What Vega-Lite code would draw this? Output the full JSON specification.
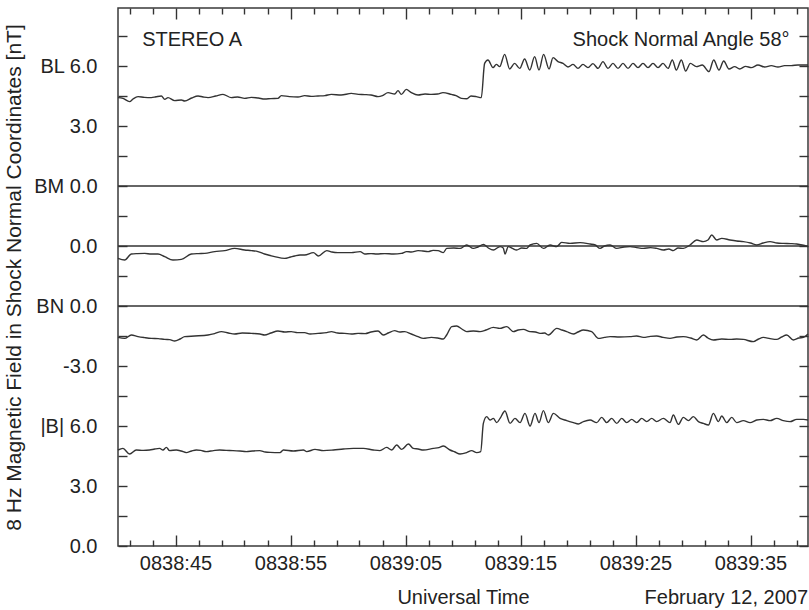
{
  "$schema": "https://vega.github.io/schema/vega-lite/v6.json",
  "width": 690,
  "height": 538,
  "autosize": {"type": "none"},
  "padding": {"left": 118, "top": 8, "right": 1, "bottom": 64},
  "title": {"text": "February 12, 2007", "orient": "bottom", "anchor": "end", "frame": "group", "offset": -19},
  "config": {
    "view": {"stroke": "#3a3a3a", "strokeWidth": 1.5},
    "font": "Liberation Sans",
    "axis": {"domain": false, "grid": false, "labelFont": "Liberation Sans", "titleFont": "Liberation Sans", "labelFontSize": 20, "titleFontSize": 20, "titleFontWeight": "normal", "labelColor": "#222", "titleColor": "#222", "tickColor": "#333", "tickWidth": 1.4, "labelOverlap": false, "labelFlush": false},
    "title": {"font": "Liberation Sans", "fontSize": 20, "fontWeight": "normal", "color": "#222"}
  },
  "datasets": {
    "BL": [{"t":0,"v":4.42},{"t":0.43,"v":4.38},{"t":1.01,"v":4.22},{"t":1.3,"v":4.35},{"t":1.74,"v":4.47},{"t":2.3,"v":4.43},{"t":2.9,"v":4.42},{"t":3.3,"v":4.46},{"t":3.77,"v":4.5},{"t":4.06,"v":4.33},{"t":4.35,"v":4.42},{"t":4.93,"v":4.27},{"t":5.51,"v":4.3},{"t":5.8,"v":4.25},{"t":6.4,"v":4.4},{"t":6.96,"v":4.5},{"t":7.4,"v":4.45},{"t":7.83,"v":4.42},{"t":8.5,"v":4.5},{"t":9.13,"v":4.58},{"t":9.86,"v":4.42},{"t":10.4,"v":4.45},{"t":11.01,"v":4.38},{"t":11.59,"v":4.43},{"t":12.2,"v":4.4},{"t":12.75,"v":4.35},{"t":13.3,"v":4.37},{"t":13.91,"v":4.38},{"t":14.2,"v":4.52},{"t":14.9,"v":4.47},{"t":15.65,"v":4.45},{"t":16.23,"v":4.52},{"t":16.8,"v":4.48},{"t":17.39,"v":4.5},{"t":18.0,"v":4.52},{"t":18.55,"v":4.58},{"t":19.4,"v":4.55},{"t":20.29,"v":4.63},{"t":20.9,"v":4.58},{"t":21.45,"v":4.57},{"t":22.0,"v":4.55},{"t":22.61,"v":4.47},{"t":23.0,"v":4.52},{"t":23.48,"v":4.67},{"t":24.06,"v":4.6},{"t":24.35,"v":4.77},{"t":24.64,"v":4.58},{"t":25.07,"v":4.83},{"t":25.51,"v":4.67},{"t":26.09,"v":4.55},{"t":26.7,"v":4.6},{"t":27.25,"v":4.58},{"t":27.8,"v":4.6},{"t":28.26,"v":4.67},{"t":28.99,"v":4.58},{"t":29.4,"v":4.52},{"t":29.86,"v":4.38},{"t":30.3,"v":4.36},{"t":30.7,"v":4.5},{"t":31.16,"v":4.47},{"t":31.59,"v":4.42},{"t":31.88,"v":6.13},{"t":32.17,"v":6.3},{"t":32.61,"v":5.92},{"t":32.9,"v":6.08},{"t":33.19,"v":5.97},{"t":33.62,"v":6.58},{"t":34.06,"v":5.85},{"t":34.49,"v":6.13},{"t":34.93,"v":5.88},{"t":35.36,"v":6.35},{"t":35.8,"v":5.8},{"t":36.23,"v":6.47},{"t":36.61,"v":5.8},{"t":37.01,"v":6.58},{"t":37.48,"v":5.85},{"t":37.83,"v":6.42},{"t":38.26,"v":6.22},{"t":38.7,"v":6.13},{"t":39.13,"v":5.95},{"t":39.57,"v":6.08},{"t":40.0,"v":5.88},{"t":40.43,"v":6.08},{"t":40.87,"v":5.92},{"t":41.3,"v":6.12},{"t":41.74,"v":5.88},{"t":42.17,"v":6.22},{"t":42.61,"v":5.88},{"t":43.04,"v":6.13},{"t":43.48,"v":5.88},{"t":43.91,"v":6.13},{"t":44.35,"v":5.88},{"t":44.78,"v":6.13},{"t":45.22,"v":5.92},{"t":45.65,"v":6.13},{"t":46.09,"v":5.92},{"t":46.52,"v":6.13},{"t":46.96,"v":5.92},{"t":47.39,"v":6.13},{"t":47.83,"v":5.88},{"t":48.2,"v":6.3},{"t":48.55,"v":5.8},{"t":48.99,"v":6.3},{"t":49.36,"v":5.75},{"t":49.77,"v":6.13},{"t":50.29,"v":5.97},{"t":50.81,"v":6.05},{"t":51.39,"v":5.72},{"t":51.8,"v":6.3},{"t":52.26,"v":5.8},{"t":52.67,"v":6.25},{"t":53.13,"v":5.85},{"t":53.62,"v":5.97},{"t":54.06,"v":5.85},{"t":54.58,"v":5.98},{"t":55.07,"v":5.92},{"t":55.65,"v":6.05},{"t":56.23,"v":5.95},{"t":56.81,"v":6.02},{"t":57.39,"v":5.95},{"t":57.97,"v":6.02},{"t":58.55,"v":6.02},{"t":59.13,"v":6.05},{"t":60,"v":6.05}],
    "BM": [{"t":0,"v":-0.62},{"t":0.58,"v":-0.7},{"t":1.16,"v":-0.4},{"t":1.7,"v":-0.38},{"t":2.32,"v":-0.37},{"t":2.9,"v":-0.4},{"t":3.48,"v":-0.4},{"t":4.06,"v":-0.53},{"t":4.78,"v":-0.7},{"t":5.51,"v":-0.67},{"t":6.38,"v":-0.4},{"t":7.0,"v":-0.38},{"t":7.54,"v":-0.37},{"t":8.41,"v":-0.28},{"t":9.28,"v":-0.23},{"t":10.14,"v":-0.12},{"t":11.01,"v":-0.2},{"t":11.6,"v":-0.23},{"t":12.17,"v":-0.28},{"t":12.75,"v":-0.4},{"t":13.62,"v":-0.53},{"t":14.49,"v":-0.62},{"t":15.0,"v":-0.55},{"t":15.36,"v":-0.5},{"t":15.83,"v":-0.45},{"t":16.23,"v":-0.45},{"t":16.99,"v":-0.33},{"t":17.42,"v":-0.5},{"t":18.15,"v":-0.23},{"t":18.6,"v":-0.3},{"t":19.13,"v":-0.33},{"t":19.6,"v":-0.33},{"t":20.29,"v":-0.33},{"t":21.05,"v":-0.28},{"t":21.45,"v":-0.4},{"t":22.0,"v":-0.38},{"t":22.49,"v":-0.4},{"t":23.2,"v":-0.38},{"t":23.94,"v":-0.4},{"t":24.64,"v":-0.37},{"t":25.1,"v":-0.28},{"t":25.5,"v":-0.3},{"t":26.09,"v":-0.23},{"t":26.5,"v":-0.25},{"t":26.96,"v":-0.28},{"t":27.4,"v":-0.22},{"t":27.83,"v":-0.23},{"t":28.29,"v":-0.33},{"t":28.58,"v":-0.12},{"t":29.2,"v":-0.1},{"t":29.74,"v":-0.12},{"t":30.32,"v":0.05},{"t":30.9,"v":-0.12},{"t":31.3,"v":-0.05},{"t":31.77,"v":0.08},{"t":32.2,"v":-0.1},{"t":32.64,"v":-0.2},{"t":33.22,"v":-0.03},{"t":33.5,"v":-0.1},{"t":33.65,"v":-0.4},{"t":33.94,"v":-0.03},{"t":34.3,"v":-0.12},{"t":34.67,"v":-0.2},{"t":35.1,"v":-0.1},{"t":35.54,"v":-0.12},{"t":35.83,"v":0.05},{"t":36.41,"v":0.13},{"t":36.99,"v":-0.12},{"t":37.57,"v":0.05},{"t":38.15,"v":-0.03},{"t":38.58,"v":0.18},{"t":39.31,"v":0.13},{"t":40.18,"v":0.17},{"t":41.05,"v":0.1},{"t":41.5,"v":0.05},{"t":41.92,"v":-0.12},{"t":42.3,"v":0.0},{"t":42.79,"v":0.05},{"t":43.37,"v":-0.12},{"t":44.0,"v":-0.05},{"t":44.53,"v":-0.03},{"t":45.1,"v":-0.08},{"t":45.68,"v":-0.12},{"t":46.3,"v":-0.08},{"t":46.84,"v":-0.12},{"t":47.42,"v":-0.2},{"t":47.9,"v":-0.15},{"t":48.29,"v":-0.23},{"t":48.7,"v":-0.1},{"t":49.16,"v":-0.12},{"t":49.74,"v":0.05},{"t":50.32,"v":0.3},{"t":50.9,"v":0.22},{"t":51.3,"v":0.3},{"t":51.63,"v":0.55},{"t":52.06,"v":0.3},{"t":52.5,"v":0.38},{"t":53.22,"v":0.3},{"t":53.8,"v":0.25},{"t":54.38,"v":0.22},{"t":55.0,"v":0.15},{"t":55.54,"v":0.05},{"t":56.1,"v":0.15},{"t":56.7,"v":0.22},{"t":57.3,"v":0.15},{"t":57.86,"v":0.13},{"t":58.5,"v":0.12},{"t":59.02,"v":0.1},{"t":59.5,"v":0.05},{"t":60,"v":-0.03}],
    "BN": [{"t":0,"v":-1.57},{"t":0.58,"v":-1.62},{"t":1.16,"v":-1.45},{"t":1.74,"v":-1.53},{"t":2.3,"v":-1.58},{"t":2.9,"v":-1.62},{"t":3.5,"v":-1.63},{"t":4.06,"v":-1.67},{"t":4.5,"v":-1.68},{"t":4.93,"v":-1.75},{"t":5.4,"v":-1.65},{"t":5.8,"v":-1.53},{"t":6.67,"v":-1.5},{"t":7.83,"v":-1.45},{"t":8.4,"v":-1.38},{"t":8.99,"v":-1.28},{"t":9.6,"v":-1.35},{"t":10.14,"v":-1.4},{"t":10.8,"v":-1.35},{"t":11.59,"v":-1.37},{"t":12.35,"v":-1.4},{"t":12.75,"v":-1.45},{"t":13.3,"v":-1.35},{"t":13.91,"v":-1.25},{"t":14.5,"v":-1.3},{"t":15.07,"v":-1.28},{"t":15.6,"v":-1.33},{"t":16.23,"v":-1.33},{"t":16.7,"v":-1.4},{"t":17.39,"v":-1.37},{"t":18.15,"v":-1.33},{"t":18.55,"v":-1.28},{"t":19.1,"v":-1.35},{"t":19.71,"v":-1.37},{"t":20.3,"v":-1.4},{"t":20.87,"v":-1.37},{"t":21.5,"v":-1.38},{"t":22.0,"v":-1.3},{"t":22.61,"v":-1.25},{"t":23.07,"v":-1.45},{"t":23.5,"v":-1.35},{"t":24.06,"v":-1.23},{"t":24.5,"v":-1.3},{"t":24.93,"v":-1.28},{"t":25.5,"v":-1.4},{"t":26.09,"v":-1.53},{"t":26.55,"v":-1.62},{"t":27.25,"v":-1.57},{"t":27.8,"v":-1.6},{"t":28.29,"v":-1.65},{"t":28.58,"v":-1.45},{"t":29.02,"v":-1.03},{"t":29.45,"v":-1.0},{"t":29.9,"v":-1.15},{"t":30.32,"v":-1.28},{"t":30.9,"v":-1.25},{"t":31.48,"v":-1.28},{"t":32.0,"v":-1.2},{"t":32.64,"v":-1.07},{"t":33.2,"v":-1.12},{"t":33.8,"v":-1.03},{"t":34.38,"v":-1.28},{"t":34.8,"v":-1.2},{"t":35.25,"v":-1.17},{"t":35.83,"v":-1.28},{"t":36.3,"v":-1.3},{"t":36.7,"v":-1.37},{"t":37.1,"v":-1.35},{"t":37.42,"v":-1.45},{"t":38.15,"v":-1.12},{"t":38.6,"v":-1.2},{"t":39.02,"v":-1.28},{"t":39.6,"v":-1.4},{"t":40.0,"v":-1.3},{"t":40.47,"v":-1.2},{"t":41.19,"v":-1.28},{"t":41.77,"v":-1.62},{"t":42.3,"v":-1.57},{"t":42.79,"v":-1.53},{"t":43.6,"v":-1.55},{"t":44.53,"v":-1.53},{"t":45.1,"v":-1.5},{"t":45.68,"v":-1.57},{"t":46.3,"v":-1.52},{"t":46.84,"v":-1.5},{"t":47.4,"v":-1.57},{"t":48.0,"v":-1.62},{"t":48.6,"v":-1.55},{"t":49.16,"v":-1.53},{"t":49.8,"v":-1.6},{"t":50.32,"v":-1.7},{"t":50.9,"v":-1.45},{"t":51.3,"v":-1.6},{"t":51.77,"v":-1.7},{"t":52.5,"v":-1.65},{"t":53.22,"v":-1.67},{"t":53.8,"v":-1.65},{"t":54.38,"v":-1.67},{"t":55.25,"v":-1.78},{"t":55.7,"v":-1.65},{"t":56.12,"v":-1.57},{"t":56.7,"v":-1.63},{"t":57.28,"v":-1.67},{"t":57.7,"v":-1.55},{"t":58.15,"v":-1.45},{"t":58.73,"v":-1.7},{"t":59.2,"v":-1.6},{"t":59.6,"v":-1.57},{"t":60,"v":-1.4}],
    "B": [{"t":0,"v":4.8},{"t":0.43,"v":4.88},{"t":1.01,"v":4.6},{"t":1.59,"v":4.8},{"t":2.2,"v":4.78},{"t":2.75,"v":4.8},{"t":3.2,"v":4.85},{"t":3.62,"v":4.88},{"t":3.91,"v":4.8},{"t":4.2,"v":4.93},{"t":4.49,"v":4.77},{"t":5.07,"v":4.8},{"t":5.5,"v":4.75},{"t":5.94,"v":4.67},{"t":6.4,"v":4.75},{"t":6.81,"v":4.8},{"t":7.2,"v":4.78},{"t":7.68,"v":4.72},{"t":8.3,"v":4.77},{"t":8.84,"v":4.8},{"t":9.4,"v":4.78},{"t":10.0,"v":4.77},{"t":10.6,"v":4.75},{"t":11.16,"v":4.72},{"t":11.7,"v":4.75},{"t":12.32,"v":4.77},{"t":12.8,"v":4.7},{"t":13.22,"v":4.68},{"t":14.09,"v":4.67},{"t":14.38,"v":4.8},{"t":15.25,"v":4.75},{"t":16.12,"v":4.8},{"t":16.41,"v":4.72},{"t":17.13,"v":4.83},{"t":17.86,"v":4.77},{"t":18.73,"v":4.8},{"t":19.6,"v":4.85},{"t":20.47,"v":4.88},{"t":21.34,"v":4.88},{"t":22.2,"v":4.8},{"t":22.78,"v":4.77},{"t":23.36,"v":4.93},{"t":23.8,"v":4.8},{"t":24.23,"v":5.05},{"t":24.67,"v":4.83},{"t":25.25,"v":5.1},{"t":25.68,"v":4.88},{"t":26.1,"v":4.85},{"t":26.55,"v":4.8},{"t":27.42,"v":4.88},{"t":27.9,"v":4.92},{"t":28.29,"v":5.0},{"t":28.87,"v":4.8},{"t":29.3,"v":4.7},{"t":29.74,"v":4.6},{"t":30.32,"v":4.67},{"t":30.75,"v":4.77},{"t":31.19,"v":4.67},{"t":31.54,"v":4.72},{"t":31.77,"v":6.13},{"t":32.06,"v":6.47},{"t":32.35,"v":6.3},{"t":32.64,"v":6.38},{"t":32.93,"v":6.17},{"t":33.22,"v":6.38},{"t":33.65,"v":6.75},{"t":34.09,"v":6.13},{"t":34.52,"v":6.38},{"t":34.96,"v":6.17},{"t":35.39,"v":6.63},{"t":35.83,"v":6.0},{"t":36.26,"v":6.63},{"t":36.61,"v":6.17},{"t":36.99,"v":6.77},{"t":37.42,"v":6.17},{"t":37.86,"v":6.63},{"t":38.44,"v":6.38},{"t":39.02,"v":6.27},{"t":39.6,"v":6.17},{"t":40.03,"v":6.1},{"t":40.47,"v":6.22},{"t":41.05,"v":6.3},{"t":41.63,"v":6.17},{"t":42.06,"v":6.43},{"t":42.5,"v":6.17},{"t":42.93,"v":6.38},{"t":43.37,"v":6.13},{"t":43.8,"v":6.38},{"t":44.24,"v":6.17},{"t":44.67,"v":6.33},{"t":45.11,"v":6.17},{"t":45.54,"v":6.38},{"t":45.98,"v":6.22},{"t":46.41,"v":6.38},{"t":46.84,"v":6.22},{"t":47.42,"v":6.38},{"t":48.0,"v":6.17},{"t":48.29,"v":6.55},{"t":48.73,"v":6.08},{"t":49.16,"v":6.43},{"t":49.6,"v":6.27},{"t":50.03,"v":6.47},{"t":50.47,"v":6.22},{"t":50.9,"v":6.13},{"t":51.34,"v":6.05},{"t":51.77,"v":6.63},{"t":52.21,"v":6.22},{"t":52.5,"v":6.5},{"t":52.93,"v":6.17},{"t":53.37,"v":6.43},{"t":53.8,"v":6.17},{"t":54.38,"v":6.27},{"t":54.96,"v":6.17},{"t":55.54,"v":6.3},{"t":56.12,"v":6.33},{"t":56.7,"v":6.27},{"t":57.28,"v":6.38},{"t":57.86,"v":6.27},{"t":58.44,"v":6.22},{"t":59.02,"v":6.33},{"t":59.6,"v":6.33},{"t":60,"v":6.3}],
    "zeroLines": [{"u":12},{"u":15},{"u":18}]
  },
  "layer": [
    {
      "data": {"name": "B"},
      "mark": {"type": "line", "color": "#333", "strokeWidth": 1.4, "interpolate": "monotone"},
      "encoding": {
        "x": {"field": "t", "type": "quantitative", "scale": {"domain": [0, 60], "nice": false, "zero": false},
              "axis": {"orient": "bottom", "values": [5, 15, 25, 35, 45, 55], "tickSize": -11, "labelPadding": 18, "title": "Universal Time", "titlePadding": 14,
                       "labelExpr": "datum.value == 5 ? '0838:45' : datum.value == 15 ? '0838:55' : datum.value == 25 ? '0839:05' : datum.value == 35 ? '0839:15' : datum.value == 45 ? '0839:25' : '0839:35'"}},
        "y": {"field": "v", "type": "quantitative", "scale": {"domain": [0, 26.9], "nice": false, "zero": false},
              "axis": {"orient": "left", "values": [0, 1.5, 3, 4.5, 6, 7.5, 9, 10.5, 12, 13.5, 15, 16.5, 18, 19.5, 21, 22.5, 24, 25.5], "tickSize": -9, "labelPadding": 30, "labelBaseline": "middle",
                       "title": "8 Hz Magnetic Field in Shock Normal Coordinates [nT]", "titleFontSize": 21, "titlePadding": 9,
                       "labelExpr": "datum.value == 24 ? 'BL 6.0' : datum.value == 21 ? '3.0' : datum.value == 18 ? 'BM 0.0' : datum.value == 15 ? '0.0' : datum.value == 12 ? 'BN 0.0' : datum.value == 9 ? '-3.0' : datum.value == 6 ? '|B| 6.0' : datum.value == 3 ? '3.0' : datum.value == 0 ? '0.0' : ''"}}
      }
    },
    {
      "data": {"name": "BL"},
      "mark": {"type": "line", "color": "#333", "strokeWidth": 1.4, "interpolate": "monotone"},
      "encoding": {
        "x": {"field": "t", "type": "quantitative", "axis": {"orient": "top", "values": [5, 15, 25, 35, 45, 55], "tickSize": -11, "labels": false, "title": null}},
        "y": {"field": "v", "type": "quantitative", "scale": {"domain": [-18, 8.9], "nice": false, "zero": false},
              "axis": {"orient": "right", "values": [-18, -16.5, -15, -13.5, -12, -10.5, -9, -7.5, -6, -4.5, -3, -1.5, 0, 1.5, 3, 4.5, 6, 7.5], "tickSize": -9, "labels": false, "title": null}}
      }
    },
    {
      "data": {"name": "BM"},
      "mark": {"type": "line", "color": "#333", "strokeWidth": 1.4, "interpolate": "monotone"},
      "encoding": {
        "x": {"field": "t", "type": "quantitative", "axis": {"orient": "bottom", "values": [1, 3, 7, 9, 11, 13, 17, 19, 21, 23, 27, 29, 31, 33, 37, 39, 41, 43, 47, 49, 51, 53, 57, 59], "tickSize": -6, "labels": false, "title": null}},
        "y": {"field": "v", "type": "quantitative", "scale": {"domain": [-15, 11.9], "nice": false, "zero": false}, "axis": null}
      }
    },
    {
      "data": {"name": "BN"},
      "mark": {"type": "line", "color": "#333", "strokeWidth": 1.4, "interpolate": "monotone"},
      "encoding": {
        "x": {"field": "t", "type": "quantitative", "axis": {"orient": "top", "values": [1, 3, 7, 9, 11, 13, 17, 19, 21, 23, 27, 29, 31, 33, 37, 39, 41, 43, 47, 49, 51, 53, 57, 59], "tickSize": -6, "labels": false, "title": null}},
        "y": {"field": "v", "type": "quantitative", "scale": {"domain": [-12, 14.9], "nice": false, "zero": false}, "axis": null}
      }
    },
    {
      "data": {"name": "zeroLines"},
      "mark": {"type": "rule", "color": "#333", "strokeWidth": 1.3},
      "encoding": {
        "y": {"field": "u", "type": "quantitative", "scale": {"domain": [0, 26.9], "nice": false, "zero": false}, "axis": null}
      }
    },
    {
      "data": {"values": [{}]},
      "mark": {"type": "text", "text": "STEREO A", "align": "left", "baseline": "middle", "fontSize": 20, "font": "Liberation Sans", "color": "#222"},
      "encoding": {
        "x": {"datum": 2.1, "type": "quantitative", "axis": null},
        "y": {"datum": 25.3, "type": "quantitative", "scale": {"domain": [0, 26.9], "nice": false, "zero": false}, "axis": null}
      }
    },
    {
      "data": {"values": [{}]},
      "mark": {"type": "text", "text": "Shock Normal Angle 58°", "align": "right", "baseline": "middle", "fontSize": 20, "font": "Liberation Sans", "color": "#222"},
      "encoding": {
        "x": {"datum": 58.4, "type": "quantitative", "axis": null},
        "y": {"datum": 25.3, "type": "quantitative", "scale": {"domain": [0, 26.9], "nice": false, "zero": false}, "axis": null}
      }
    }
  ],
  "resolve": {"scale": {"y": "independent"}, "axis": {"x": "independent", "y": "independent"}}
}
